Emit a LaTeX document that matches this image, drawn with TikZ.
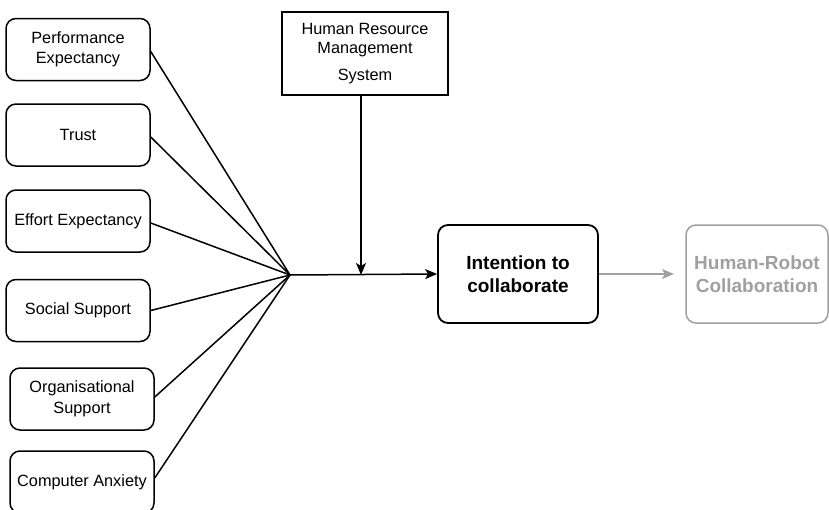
\documentclass[tikz,border=0pt]{standalone}
\usepackage{fontspec}
\setmainfont{Liberation Sans}
\usetikzlibrary{arrows.meta}
\definecolor{fadegray}{HTML}{A0A0A0}
\begin{document}
\begin{tikzpicture}[x=1pt,y=-1pt,
  fbox/.style={draw,rounded corners=10pt,line width=1.5pt,align=center,inner sep=0pt,minimum width=144pt,minimum height=62pt,font=\fontsize{16.3}{20.5}\selectfont},
  link/.style={line width=1.5pt},
  arr/.style={line width=1.5pt,-{Stealth[length=12pt,width=10pt,inset=3pt]}}]
\useasboundingbox (0,0) rectangle (829,509);
\clip (0,0) rectangle (829,509);
\fill[white] (0,0) rectangle (829,509);
% left factor boxes
\node[fbox] (pe) at (78,49.5) {Performance\\Expectancy};
\node[fbox] (tr) at (78,135) {Trust};
\node[fbox] (ee) at (78,221) {Effort Expectancy};
\node[fbox] (ss) at (78,310.5) {Social Support};
\node[fbox] (os) at (82,399) {Organisational\\Support};
\node[fbox] (ca) at (82,482) {Computer Anxiety};
% hub
\coordinate (hub) at (290,275);
\coordinate (mid) at (361,275);
% HRMS
\node[draw,line width=1.5pt,minimum width=166pt,minimum height=83pt,align=center,inner sep=0pt,font=\fontsize{16.3}{19.5}\selectfont] (hr) at (365,53.5) {Human Resource\\Management\\[7pt]System};
% intention
\node[draw,rounded corners=10pt,line width=1.8pt,minimum width=160pt,minimum height=98pt,align=center,inner sep=0pt,font=\bfseries\fontsize{19}{23}\selectfont] (in) at (518,274) {Intention to\\collaborate};
% HRC
\node[draw=fadegray,rounded corners=10pt,line width=1.5pt,minimum width=142pt,minimum height=98pt,align=center,inner sep=0pt,text=fadegray,font=\bfseries\fontsize{19}{23}\selectfont] (hrc) at (757,274) {Human-Robot\\Collaboration};
% connectors
\draw[link] (pe.east) ++(0,2) -- (hub);
\draw[link] (tr.east) ++(0,2) -- (hub);
\draw[link] (ee.east) ++(0,2) -- (hub);
\draw[link] (ss.east) -- (hub);
\draw[link] (os.east) ++(0,-2) -- (hub);
\draw[link] (ca.east) ++(0,-4) -- (hub);
\draw[arr] (hub) -- (in.west);
\draw[arr] (hr.south -| mid) -- (mid);
\draw[arr,draw=fadegray,line width=1.3pt] (in.east) -- ++(75,0) coordinate (hrcend);
\end{tikzpicture}
\end{document}
